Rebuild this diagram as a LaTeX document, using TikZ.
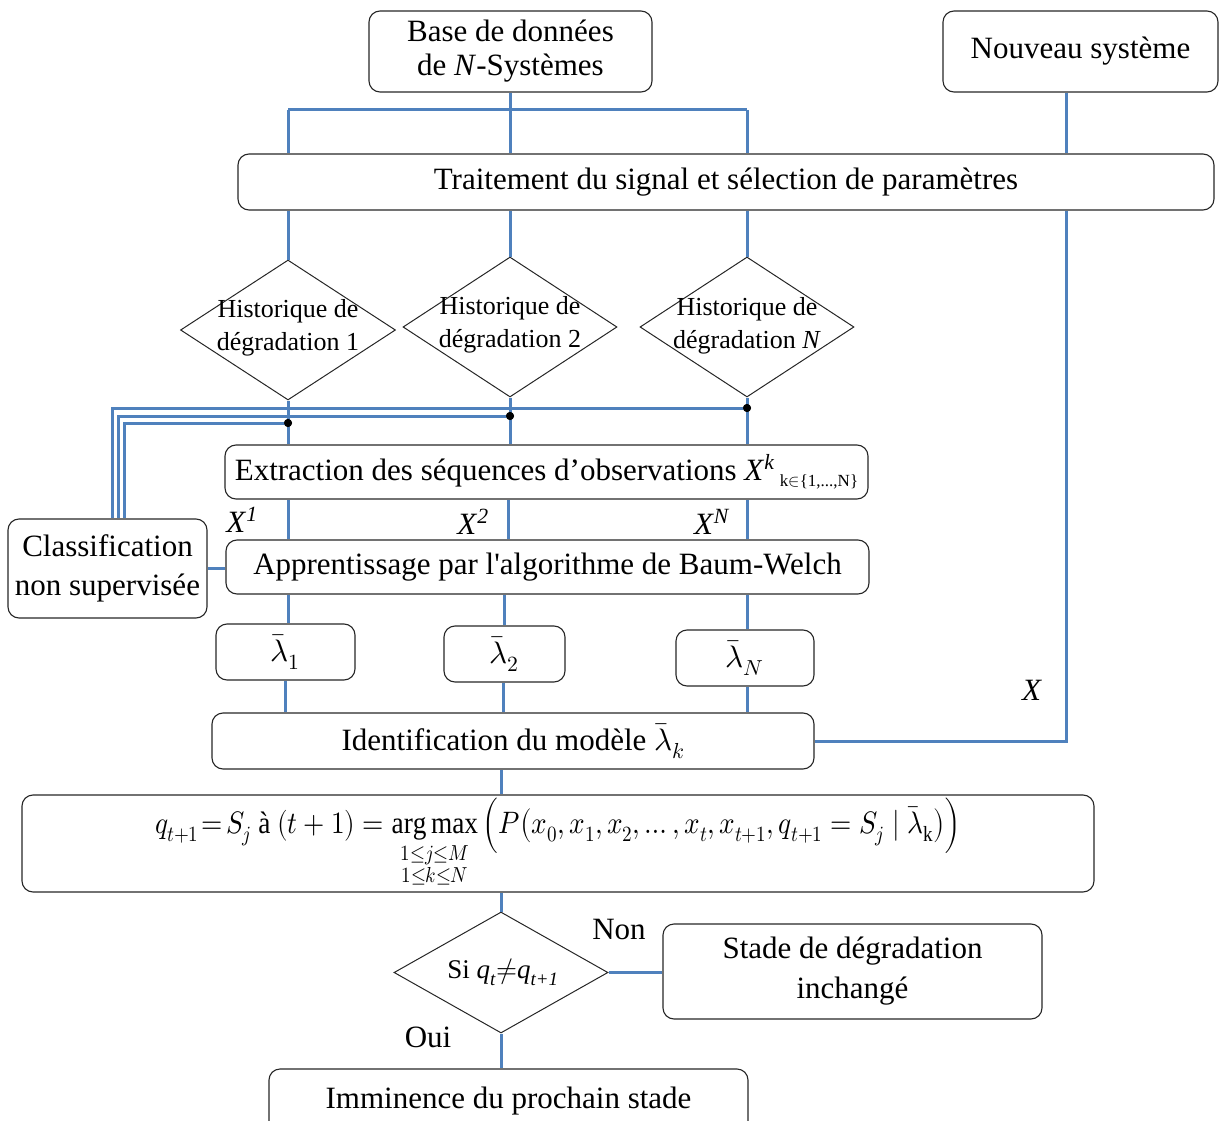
\documentclass[tikz,border=0pt]{standalone}
\usepackage{amsmath}
\usepackage{graphicx}
\usepackage{fontspec}
\usepackage{unicode-math}
\setmainfont{Liberation Serif}
\newfontfamily\straightfont{Liberation Serif}
\setmathfont{Latin Modern Math}
\usetikzlibrary{shapes.geometric,calc}
\definecolor{lineblue}{RGB}{79,129,189}
\begin{document}
\begin{tikzpicture}[x=1pt,y=-1pt,
  box/.style={draw=black!85, line width=1.1pt, rounded corners=11pt, inner sep=0pt, align=center, font=\fontsize{31}{36}\selectfont},
  dia/.style={draw=black!85, line width=1pt, diamond, inner sep=0pt},
  diatext/.style={inner sep=0pt, align=center, font=\fontsize{26}{33}\selectfont},
  wire/.style={draw=lineblue, line width=3pt},
  lbl/.style={inner sep=0pt, font=\fontsize{31}{36}\selectfont},
  jdot/.style={circle, fill=black, inner sep=0pt, minimum size=8pt}]
\useasboundingbox (0,0) rectangle (1219,1121);

% --- nodes ---
\node[box, minimum width=283, minimum height=81, font=\fontsize{31}{34}\selectfont] (db) at (510.5,51.5) {Base de données\\de \textit{N}-Systèmes};
\node[box, minimum width=275, minimum height=81] (new) at (1080.5,51.5) {Nouveau système};
\node[box, minimum width=976, minimum height=56] (sig) at (726,182) {Traitement du signal et sélection de paramètres};

\node[dia, minimum width=215, minimum height=140] (d1) at (288,330) {};
\node[diatext] (d1t) at (288,328) {Historique de\\dégradation 1};
\node[dia, minimum width=214, minimum height=140] (d2) at (510,327) {};
\node[diatext] (d2t) at (510,325) {Historique de\\dégradation 2};
\node[dia, minimum width=214, minimum height=140] (dN) at (747,327) {};
\node[diatext] (dNt) at (747,326) {Historique de\\dégradation \textit{N}};

\node[box, minimum width=643, minimum height=54] (ext) at (546.5,472) {Extraction des séquences d’observations \textit{X}\textsuperscript{\textit{k}}\,{\fontsize{17}{17}\selectfont\raisebox{-6pt}{k$\in$\{1,...,N\}}}};
\node[box, minimum width=643, minimum height=54] (app) at (547.5,567) {Apprentissage par l{\straightfont\char"0027}algorithme de Baum-Welch};
\node[box, minimum width=199, minimum height=99, font=\fontsize{31}{39}\selectfont] (cls) at (107.5,568.5) {Classification\\non supervisée};

\node[box, minimum width=139, minimum height=56] (l1) at (285.5,652) {$\bar{\lambda}_1$};
\node[box, minimum width=121, minimum height=56] (l2) at (504.5,654) {$\bar{\lambda}_2$};
\node[box, minimum width=138, minimum height=56] (lN) at (745,658) {$\bar{\lambda}_N$};

\node[box, minimum width=602, minimum height=56] (ident) at (513,741) {Identification du modèle $\bar{\lambda}_k$};

\node[box, minimum width=1072, minimum height=97] (form) at (558,843.5) {\scalebox{0.88}[1]{$q_{t+1}\!=\!S_j$ à $(t+1) = \mathop{\mathrm{arg\,max}}\limits_{\substack{1\le j\le M\\ 1\le k\le N}} \Big( P\big(x_0, x_1, x_2, \ldots, x_t, x_{t+1}, q_{t+1} = S_j \mid \bar{\lambda}_{\mathrm{k}}\big)\Big)$}};

\node[dia, minimum width=214, minimum height=121] (dec) at (501,972.5) {};
\node[diatext, font=\fontsize{27}{30}\selectfont] (dect) at (503,972) {Si \textit{q}\textsubscript{\textit{t}}$\neq$\textit{q}\textsubscript{\textit{t+1}}};
\node[box, minimum width=379, minimum height=95, font=\fontsize{31}{40}\selectfont] (stade) at (852.5,971.5) {Stade de dégradation\\inchangé};
\node[box, minimum width=479, minimum height=64] (imm) at (508.5,1101) {Imminence du prochain stade};

% --- labels ---
\node[lbl] (x1) at (242,520) {\textit{X}\textsuperscript{\textit{1}}};
\node[lbl] (x2) at (473,522) {\textit{X}\textsuperscript{\textit{2}}};
\node[lbl] (xN) at (712,522) {\textit{X}\textsuperscript{\textit{N}}};
\node[lbl] (xx) at (1032,690) {\textit{X}};
\node[lbl] (non) at (619,929) {Non};
\node[lbl] (oui) at (428,1037) {Oui};

% --- coordinates ---
\coordinate (busM) at (db.south |- 0,110);
\coordinate (busL) at (288,110);
\coordinate (busR) at (747,110);
\coordinate (nx) at (1066,0);

% --- wires ---
\draw[wire] (db.south) -- (busM);
\draw[wire] (busL) -- (busR);
\draw[wire] (busL) -- (busL |- sig.north);
\draw[wire] (busM) -- (busM |- sig.north);
\draw[wire] (busR) -- (busR |- sig.north);
\draw[wire] (new.south -| nx) -- (sig.north -| nx);

\draw[wire] (d1.north |- sig.south) -- (d1.north);
\draw[wire] (d2.north |- sig.south) -- (d2.north);
\draw[wire] (dN.north |- sig.south) -- (dN.north);

\draw[wire] (d1.south) -- (d1.south |- ext.north);
\draw[wire] (d2.south) -- (d2.south |- ext.north);
\draw[wire] (dN.south) -- (dN.south |- ext.north);

\node[jdot] (p1) at (d1.south |- 0,423) {};
\node[jdot] (p2) at (d2.south |- 0,416) {};
\node[jdot] (p3) at (dN.south |- 0,408) {};
\draw[wire] (p3.center) -| ([xshift=4.5]cls.north);
\draw[wire] (p2.center) -| ([xshift=10.5]cls.north);
\draw[wire] (p1.center) -| ([xshift=16.5]cls.north);
\node[jdot] at (p1) {};
\node[jdot] at (p2) {};
\node[jdot] at (p3) {};

\draw[wire] (ext.south -| d1.south) -- (app.north -| d1.south);
\draw[wire] (ext.south -| 508,0) -- (app.north -| 508,0);
\draw[wire] (ext.south -| dN.south) -- (app.north -| dN.south);

\draw[wire] (cls.east) -- (cls.east -| app.west);

\draw[wire] (app.south -| 288,0) -- (l1.north -| 288,0);
\draw[wire] (app.south -| l2.north) -- (l2.north);
\draw[wire] (app.south -| 747,0) -- (lN.north -| 747,0);

\draw[wire] (l1.south) -- (l1.south |- ident.north);
\draw[wire] (l2.south -| 503,0) -- (ident.north -| 503,0);
\draw[wire] (lN.south -| 747,0) -- (ident.north -| 747,0);

\draw[wire] (sig.south -| nx) -- (nx |- ident.east) -- (ident.east);

\draw[wire] (ident.south -| dec.north) -- (form.north -| dec.north);
\draw[wire] (form.south -| dec.north) -- (dec.north);
\draw[wire] (dec.east) -- (dec.east -| stade.west);
\draw[wire] (dec.south) -- (dec.south |- imm.north);
\end{tikzpicture}
\end{document}
